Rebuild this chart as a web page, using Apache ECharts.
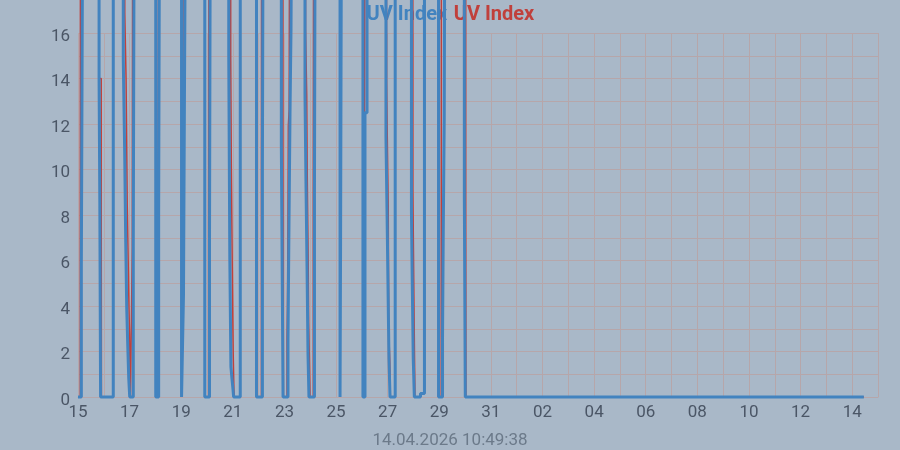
<!DOCTYPE html>
<html><head><meta charset="utf-8">
<script src="https://cdn.jsdelivr.net/npm/echarts@6/dist/echarts.min.js"></script>
<style>html,body{margin:0;padding:0;background:#a9b8c8}#chart{width:900px;height:450px}</style>
</head><body><div id="chart"></div>
<script>
// Time range of the x axis (UTC) and texts
const startDate = Date.UTC(2026, 2, 15);
const endDate = Date.UTC(2026, 3, 15);
const seriesNames = ['UV Index', 'UV Index#2'];
const legendText = 'UV Index';
const timestampText = '14.04.2026 10:49:38';
const yTickValues = [0, 2, 4, 6, 8, 10, 12, 14, 16];

// Blue series: hours since 15.03 00:00 and values (25 = beyond top of chart)
const blueHours = [0,3.1,4.0,5.6, 19.6,20.3,21.0, 32.8, 42.1,43.4,44.4,45.3,46.2,47.2,48.1, 51.4,52.4, 72.3, 75.0,76.0, 96.3, 98.1,99.0,100.3, 117.9, 122.3,123.2, 140.2,141.2,142.2,143.2,144.2,144.7, 150.9, 166.0, 171.5,172.3, 189.1,190.7, 195.3,196.2,197.2,198.1,199.0, 211.1,212.0,213.0,213.9,214.8, 219.9,220.7, 243.7, 244.2,245.2, 265.0, 266.9,268.8, 286.4,287.4,288.3,289.2,290.2, 295.0, 310.1,310.9,311.8,312.8, 318.5, 322.2, 335.3, 339.0,339.7,340.6,341.3, 359.3,360.2, 730.8];
const blueValues = [0,5.8,17.3,25, 14.0,8.5,0, 25, 14.85,10.8,6.8,3.95,2.4,0.82,0, 6.62,25, 0, 8.16,25, 0, 4.49,13.3,25, 0, 7.0,25, 15.0,6.04,1.34,0.8,0.31,0, 25, 0, 10.19,25, 11.1,0, 2.54,7.58,12.64,16.2,25, 13.3,9.48,5.74,1.89,0, 8.85,25, 0, 6.8,25, 0, 12.5,25, 11.44,8.16,4.89,1.66,0, 25, 8.16,4.89,1.66,0, 0.15, 25, 0, 2.6,7.36,12.28,25, 8.75,0, 0];

// Red series
const redHours = [0,2.1,2.3, 19.6,21.6,21.8, 32.8, 43.5,44.7,45.8,47.4,47.9,48.4,48.8, 50.5,50.9, 72.3, 74.5,75.0, 96.3, 97.3,97.9, 117.9, 121.5,121.9, 142.0,142.6,143.4,144.3,145.0,145.5, 150.9, 166.0, 170.6,170.8, 190.6,190.9, 194.4,194.8,195.3,195.6,196.4,196.9, 211.6,212.7,213.2,214.1,214.5,215.1,215.8, 218.8,219.2, 243.7, 244.6, 265.0, 266.5,267.0, 286.9,288.5,289.0,289.9,290.5, 295.0, 311.4,312.9,313.4, 318.5, 322.2, 335.3, 337.8,338.0, 360.6,360.8, 730.8];
const redValues = [0,5.8,25, 14.0,8.5,0, 25, 16.9,14.0,8.4,3.95,2.8,0.8,0, 6.6,25, 0, 8.16,25, 0, 4.49,25, 0, 7.0,25, 15.0,10.15,6.04,2.0,0.31,0, 25, 0, 10.19,25, 11.1,0, 2.54,3.95,7.58,11.9,12.64,25, 16.2,13.3,9.74,5.74,3.25,1.89,0, 8.85,25, 0, 25, 0, 12.5,25, 13.96,8.38,2.8,1.66,0, 25, 9.19,2.0,0, 0.15, 25, 0, 2.6,25, 8.75,0, 0];

const HOUR = 3600000, DAY = 86400000;
// step line (value held until the next reading)
const toStepData = (hours, vals) => {
  const out = [];
  hours.forEach((h, i) => {
    const t = startDate + h * HOUR;
    if (i > 0) out.push([t, vals[i - 1]]);
    out.push([t, vals[i]]);
  });
  return out;
};

const BLUE = '#4283bf', RED = '#c0403c', GRID = '#b6a6aa', LABEL = '#4b5666';
const chart = echarts.init(document.getElementById('chart'));
const pad = n => (n < 10 ? '0' : '') + n;
chart.setOption({
  animation: false,
  backgroundColor: '#a9b8c8',
  textStyle: { fontFamily: 'Roboto' },
  title: {
    text: timestampText, left: 'center', top: 427,
    textStyle: { fontSize: 17, fontWeight: 'normal', color: '#6c7a8a', fontFamily: 'Roboto' }
  },
  legend: {
    top: 0, left: 350, z: 1,
    itemWidth: 0, itemHeight: 14, itemGap: -5,
    itemStyle: { opacity: 0 }, lineStyle: { opacity: 0 },
    formatter: () => legendText,
    textStyle: { fontSize: 20, fontWeight: 'bold', fontFamily: 'Roboto' },
    data: [
      { name: seriesNames[0], textStyle: { color: BLUE } },
      { name: seriesNames[1], textStyle: { color: RED } }
    ]
  },
  grid: { left: 78, right: 22, top: 33, bottom: 53 },
  xAxis: {
    type: 'value', min: startDate, max: endDate, interval: DAY,
    axisLine: { show: true, lineStyle: { color: GRID } },
    axisTick: { show: false },
    splitLine: { show: true, lineStyle: { color: GRID, width: 1 } },
    axisLabel: {
      fontSize: 17, color: LABEL, margin: 7, fontFamily: 'Roboto',
      formatter: v => {
        const idx = Math.round((v - startDate) / DAY);
        return idx % 2 === 0 ? pad(new Date(v).getUTCDate()) : '';
      }
    }
  },
  yAxis: {
    type: 'value', min: 0, max: 16, interval: 1,
    axisLine: { show: false }, axisTick: { show: false },
    splitLine: { show: true, lineStyle: { color: GRID, width: 1 } },
    axisLabel: {
      margin: 8,
      formatter: v => (yTickValues.indexOf(v) >= 0 ? '{v|' + v + '}' : ''),
      rich: { v: { fontSize: 17, color: LABEL, fontFamily: 'Roboto', padding: [7, 0, 0, 0] } }
    }
  },
  series: [
    {
      name: seriesNames[1], type: 'line', showSymbol: false, clip: false, z: 5,
      data: toStepData(redHours, redValues),
      lineStyle: { color: RED, width: 1.5 }, itemStyle: { color: RED }
    },
    {
      name: seriesNames[0], type: 'line', showSymbol: false, clip: false, z: 6,
      data: toStepData(blueHours, blueValues),
      lineStyle: { color: BLUE, width: 3 }, itemStyle: { color: BLUE }
    }
  ]
});
</script></body></html>
